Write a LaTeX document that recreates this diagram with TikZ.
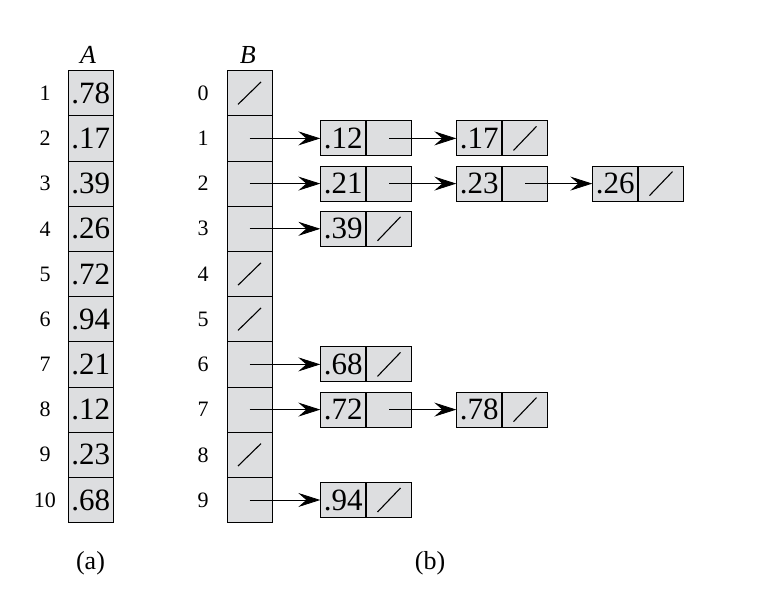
\documentclass[tikz,border=0pt]{standalone}
\usepackage{fontspec}
\setmainfont{Liberation Serif}
\usetikzlibrary{arrows.meta,positioning}
\definecolor{cellgray}{RGB}{221,222,224}

\begin{document}
\begin{tikzpicture}[
    x=1pt, y=-1pt,
    cell/.style={draw, fill=cellgray, line width=0.8pt, minimum width=45.2pt,
        minimum height=45.2pt, inner sep=0pt, font=\fontsize{31}{31}\selectfont},
    elem/.style={cell, minimum width=45pt, minimum height=35pt},
    idx/.style={font=\fontsize{22}{22}\selectfont},
    title/.style={font=\fontsize{26}{26}\selectfont},
    nilptr/.style={line width=1.1pt},
    ptr/.style={-{Stealth[length=22pt,width=14pt,inset=8pt]}, line width=0.8pt}
]
\useasboundingbox (0,0) rectangle (772,609);

% array A
\foreach \v [count=\i] in {78,17,39,26,72,94,21,12,23,68} {
    \node[cell] (a\i) at (90.8, {93.2+45.2*(\i-1)}) {.\v};
    \node[idx] (ia\i) at (45, {93.2+45.2*(\i-1)}) {\i};
}
\node[title] (hA) at (88,55) {\itshape A};

% array B
\foreach \j in {0,...,9} {
    \node[cell] (b\j) at (249.5, {93.2+45.2*\j}) {};
    \node[idx] (ib\j) at (203, {93.2+45.2*\j}) {\j};
}
\foreach \j in {0,4,5,8}
    \draw[nilptr] (b\j.center) +(-11.5pt,-11.2pt) -- +(11.5pt,11.2pt);
\node[title] (hB) at (247.7,55) {\itshape B};

% list elements
\foreach \r/\c/\v in {1/0/12, 1/1/17, 2/0/21, 2/1/23, 2/2/26,
                     3/0/39, 6/0/68, 7/0/72, 7/1/78, 9/0/94} {
    \node[elem] (k\v) at ({343.2+136*\c}, {93.2+45.2*\r}) {.\v};
    \node[elem] (n\v) [right=0pt of k\v] {};
}
\foreach \v in {17,26,39,68,78,94}
    \draw[nilptr] (n\v.center) +(-11.5pt,-12pt) -- +(11.5pt,12pt);

% pointers
\foreach \s/\t in {1/12, 2/21, 3/39, 6/68, 7/72, 9/94}
    \draw[ptr] (b\s.center) -- (k\t.west);
\foreach \s/\t in {12/17, 21/23, 23/26, 72/78}
    \draw[ptr] (n\s.center) -- (k\t.west);

% captions
\node[title, anchor=base] (capA) at (90.5,570) {(a)};
\node[title, anchor=base] (capB) at (430,570) {(b)};
\end{tikzpicture}
\end{document}
